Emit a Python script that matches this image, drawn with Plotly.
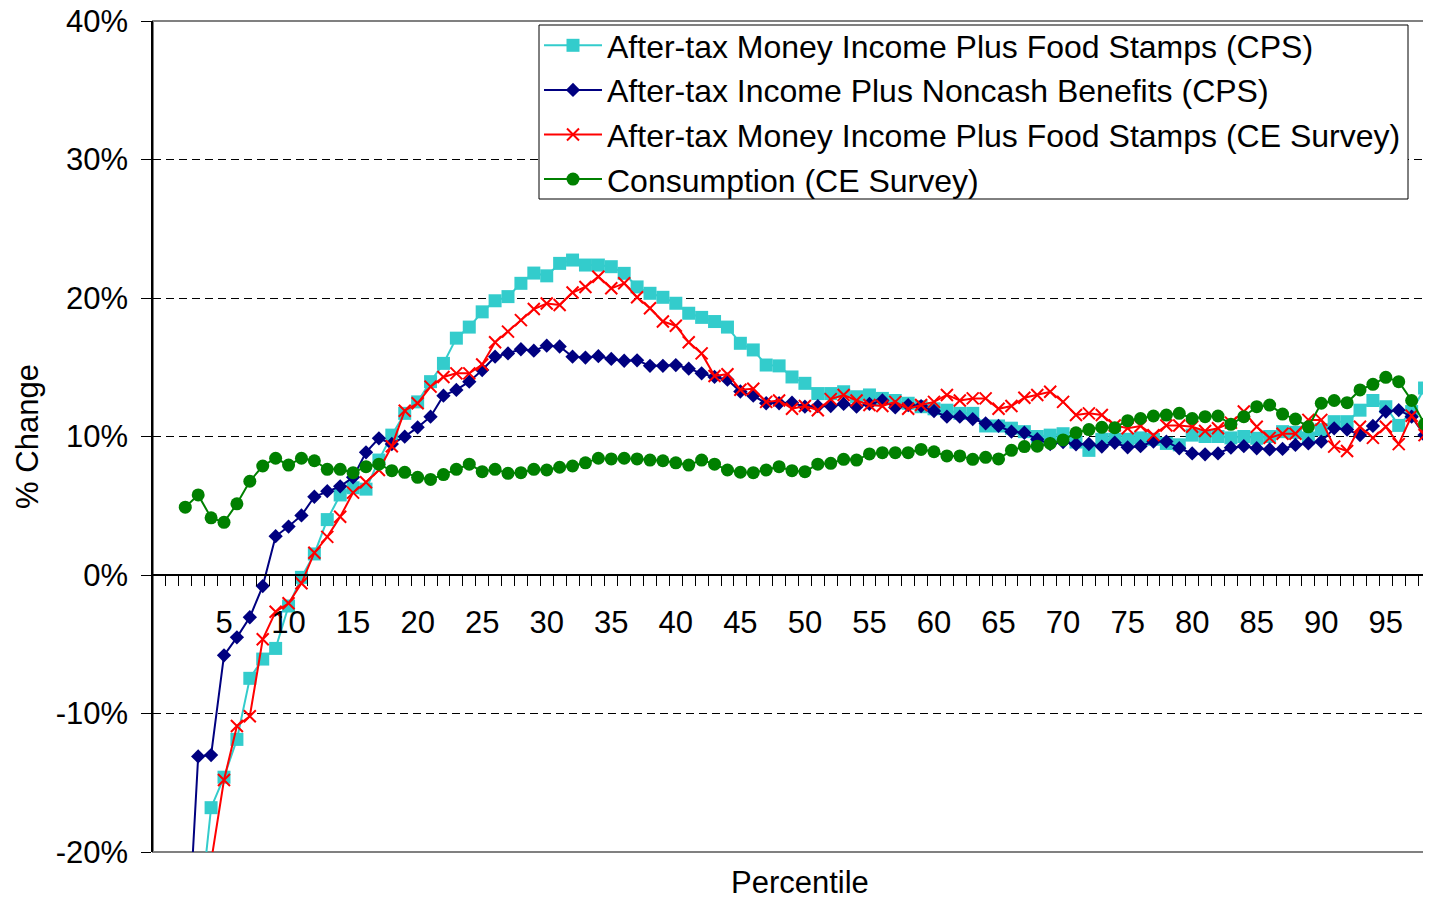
import plotly.graph_objects as go

# ---------------- data (percentile -> % change) ----------------
pct_cyan = list(range(3, 99))
cps_money_fs = [
    -25.6, -16.8, -14.6, -11.87, -7.46, -6.07, -5.3, -2.24, -0.17, 1.52,
    4.0, 5.78, 6.3, 6.2, 8.3, 10.1, 11.67, 12.5, 13.96, 15.28,
    17.1, 17.9, 19.0, 19.8, 20.1, 21.06, 21.8, 21.6, 22.5, 22.74,
    22.38, 22.38, 22.26, 21.78, 20.8, 20.34, 20.05, 19.62, 18.9, 18.6,
    18.3, 17.9, 16.73, 16.25, 15.16, 15.1, 14.3, 13.84, 13.1, 13.1,
    13.23, 12.87, 13.0, 12.75, 12.6, 12.4, 12.15, 12.0, 11.9, 11.67,
    11.67, 10.76, 10.76, 10.6, 10.35, 10.0, 10.1, 10.2, 9.6, 9.0,
    9.8, 9.8, 9.8, 9.9, 9.8, 9.5, 9.4, 10.1, 10.0, 10.0,
    9.9, 10.0, 9.87, 10.0, 10.35, 10.3, 9.9, 10.5, 11.07, 11.07,
    11.9, 12.6, 12.15, 10.8, 11.8, 13.5,
]

pct_blue = list(range(2, 99))
cps_noncash = [
    -30.0, -13.1, -13.0, -5.8, -4.5, -3.05, -0.8, 2.8, 3.5, 4.3,
    5.65, 6.05, 6.4, 7.05, 8.86, 9.87, 9.46, 9.99, 10.66, 11.43,
    12.95, 13.36, 13.96, 14.8, 15.76, 16.0, 16.3, 16.2, 16.56, 16.5,
    15.76, 15.7, 15.8, 15.6, 15.47, 15.5, 15.1, 15.1, 15.16, 14.9,
    14.56, 14.3, 14.1, 13.25, 12.95, 12.4, 12.4, 12.44, 12.15, 12.2,
    12.2, 12.35, 12.15, 12.35, 12.6, 12.1, 12.27, 12.2, 11.84, 11.43,
    11.43, 11.26, 10.95, 10.76, 10.35, 10.27, 9.8, 9.46, 9.6, 9.44,
    9.46, 9.27, 9.55, 9.22, 9.3, 9.63, 9.63, 9.15, 8.78, 8.71,
    8.78, 9.19, 9.3, 9.15, 9.07, 9.1, 9.39, 9.5, 9.63, 10.59,
    10.5, 10.1, 10.76, 11.8, 11.9, 11.43, 10.1,
]

pct_red = list(range(4, 99))
ce_money_fs = [
    -20.7, -14.8, -10.9, -10.2, -4.64, -2.65, -2.04, -0.6, 1.61, 2.75,
    4.2, 5.95, 6.7, 7.58, 9.3, 11.86, 12.4, 13.6, 14.3, 14.56,
    14.56, 15.2, 16.8, 17.57, 18.4, 19.2, 19.6, 19.5, 20.4, 20.8,
    21.54, 20.7, 21.06, 20.05, 19.26, 18.3, 18.0, 16.8, 16.0, 14.37,
    14.5, 13.38, 13.45, 12.5, 12.6, 12.0, 12.2, 11.9, 12.7, 13.0,
    12.6, 12.27, 12.2, 12.5, 12.0, 12.27, 12.5, 13.0, 12.6, 12.75,
    12.75, 12.0, 12.2, 12.8, 13.0, 13.23, 12.5, 11.55, 11.67, 11.55,
    10.8, 10.6, 10.76, 10.1, 10.8, 10.8, 10.7, 10.4, 10.6, 11.0,
    11.8, 10.7, 9.9, 10.2, 10.2, 11.2, 11.2, 9.27, 8.95, 10.7,
    9.9, 10.7, 9.45, 11.5, 10.1,
]

pct_green = list(range(2, 99))
ce_consumption = [
    4.9, 5.78, 4.13, 3.8, 5.14, 6.77, 7.87, 8.43, 7.94, 8.43,
    8.25, 7.63, 7.63, 7.39, 7.82, 8.0, 7.53, 7.41, 7.05, 6.9,
    7.25, 7.63, 8.0, 7.46, 7.63, 7.34, 7.39, 7.63, 7.58, 7.78,
    7.87, 8.1, 8.43, 8.38, 8.43, 8.38, 8.3, 8.25, 8.1, 7.94,
    8.3, 8.0, 7.58, 7.42, 7.39, 7.58, 7.82, 7.53, 7.46, 8.0,
    8.06, 8.35, 8.3, 8.74, 8.83, 8.83, 8.83, 9.07, 8.9, 8.6,
    8.6, 8.35, 8.5, 8.38, 9.0, 9.27, 9.3, 9.5, 9.75, 10.27,
    10.5, 10.66, 10.64, 11.14, 11.3, 11.48, 11.55, 11.67, 11.3, 11.43,
    11.48, 10.88, 11.43, 12.15, 12.27, 11.62, 11.26, 10.7, 12.4, 12.6,
    12.44, 13.36, 13.77, 14.27, 13.96, 12.6, 10.9,
]

x_tick_labels = [str(v) for v in range(5, 100, 5)]
y_tick_vals = [-20, -10, 0, 10, 20, 30, 40]
y_tick_text = [f"{v}%" for v in y_tick_vals]

names = [
    "After-tax Money Income Plus Food Stamps (CPS)",
    "After-tax Income Plus Noncash Benefits (CPS)",
    "After-tax Money Income Plus Food Stamps (CE Survey)",
    "Consumption (CE Survey)",
]

FONT = "Arial, Liberation Sans, sans-serif"
FS = 31

# layout geometry (page pixels; the page body adds an 8px offset)
PLOT_L, PLOT_R, PLOT_T, PLOT_B = 153, 1431, 21, 852
PW, PH = PLOT_R - PLOT_L, PLOT_B - PLOT_T


def px_x(p):
    return (p - PLOT_L) / PW


def px_y(p):
    return (PLOT_B - p) / PH


fig = go.Figure()
fig.add_trace(go.Scatter(
    x=pct_cyan, y=cps_money_fs, name=names[0], mode="lines+markers",
    line=dict(color="#33CCCC", width=2),
    marker=dict(symbol="square", size=13, color="#33CCCC"),
    legendgroup="g1"))
fig.add_trace(go.Scatter(
    x=pct_blue, y=cps_noncash, name=names[1], mode="lines+markers",
    line=dict(color="#000080", width=2),
    marker=dict(symbol="diamond", size=11, color="#000080"),
    legendgroup="g2"))
fig.add_trace(go.Scatter(
    x=pct_red, y=ce_money_fs, name=names[2], mode="lines+markers",
    line=dict(color="#FF0000", width=2),
    marker=dict(symbol="x-thin", size=12, color="#FF0000",
                line=dict(color="#FF0000", width=2)),
    legendgroup="g3"))
fig.add_trace(go.Scatter(
    x=pct_green, y=ce_consumption, name=names[3], mode="lines+markers",
    line=dict(color="#008000", width=2),
    marker=dict(symbol="circle", size=13, color="#008000"),
    legendgroup="g4"))

fig.update_layout(
    width=1423, height=891,
    margin=dict(l=PLOT_L - 8, r=0, t=PLOT_T - 8, b=891 + 8 - PLOT_B,
                autoexpand=False),
    plot_bgcolor="white", paper_bgcolor="white",
    font=dict(family=FONT, size=FS, color="black"),
    showlegend=True,
    legend=dict(
        x=px_x(539), y=px_y(18), xanchor="left", yanchor="top",
        bgcolor="rgba(0,0,0,0)", borderwidth=0,
        font=dict(family=FONT, size=32, color="black"),
        itemwidth=58, tracegroupgap=0,
    ),
    xaxis=dict(
        range=[-0.5, 98.5],
        tickmode="array", tickvals=list(range(5, 100, 5)), ticktext=x_tick_labels,
        ticks="outside", ticklen=20, tickcolor="rgba(0,0,0,0)",
        showgrid=False, zeroline=False,
        showline=True, linecolor="black", linewidth=1.5,
        anchor="free", position=1 / 3,
        minor=dict(ticks="outside", ticklen=10, tickcolor="black", tickwidth=1,
                   tickmode="array", tickvals=[k + 0.5 for k in range(0, 98)],
                   showgrid=False),
        tickfont=dict(family=FONT, size=FS, color="black"),
    ),
    yaxis=dict(
        range=[-20, 40], domain=[0, 1],
        tickmode="array", tickvals=y_tick_vals, ticktext=y_tick_text,
        ticks="outside", ticklen=10, tickcolor="black",
        showline=True, linecolor="black", linewidth=1.5,
        showgrid=True, gridcolor="black", gridwidth=1, griddash="8px,5px",
        zeroline=False, ticklabelstandoff=7, ticklabeloverflow="allow",
        automargin=False,
        tickfont=dict(family=FONT, size=FS, color="black"),
        title=dict(text="% Change", standoff=8,
                   font=dict(family=FONT, size=FS, color="black")),
    ),
    shapes=[
        # plot-area frame (grey)
        dict(type="rect", xref="paper", yref="paper", x0=0, x1=1, y0=0, y1=1,
             line=dict(color="#808080", width=2), fillcolor="rgba(0,0,0,0)",
             layer="between"),
        # legend box
        dict(type="rect", xref="paper", yref="paper",
             x0=px_x(539), x1=px_x(1408), y0=px_y(199), y1=px_y(25),
             line=dict(color="black", width=1), fillcolor="white",
             layer="above"),
    ],
    annotations=[dict(
        text="Percentile", xref="paper", yref="paper",
        x=px_x(800), y=px_y(882),
        xanchor="center", yanchor="middle", showarrow=False,
        font=dict(family=FONT, size=FS, color="black"),
    )],
)

fig.write_html("out.html")
